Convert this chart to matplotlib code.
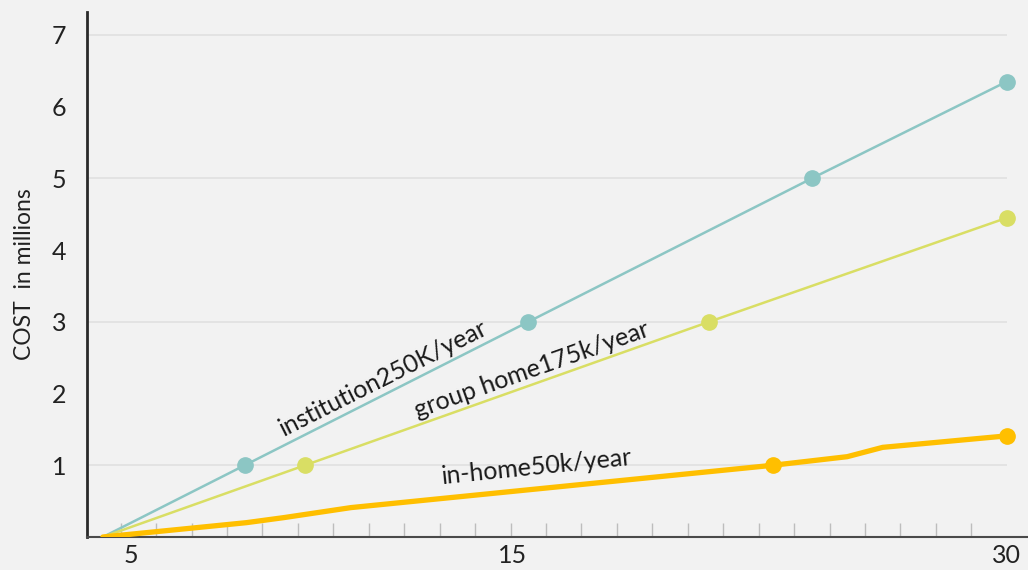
import matplotlib
matplotlib.use("Agg")
import matplotlib.pyplot as plt

plt.rcParams['font.family'] = ['Lato', 'DejaVu Sans']

# age (years) vs cumulative cost in millions
inst_age = [4.5, 8.5, 16.5, 24.5, 30]
inst_cost = [0, 1.0, 3.0, 5.0, 6.35]
group_age = [4.5, 10.2, 21.6, 30]
group_cost = [0, 1.0, 3.0, 4.45]
home_age = [4.5, 8.55, 9.6, 11.5, 23.4, 25.5, 26.5, 30]
home_cost = [0, 0.2, 0.27, 0.41, 1.0, 1.12, 1.25, 1.41]

# where markers sit
inst_mark = [1, 2, 3, 4]
group_mark = [1, 2, 3]
home_mark = [4, 7]

xtick_pos = [5.3, 16.05, 30]
xtick_labels = ['5', '15', '30']
yticks = [1, 2, 3, 4, 5, 6, 7]

c_inst = '#8cc6c4'
c_group = '#d9de64'
c_home = '#ffbf00'
bg = '#f2f2f2'

fig = plt.figure(figsize=(10.28, 5.70), dpi=100, facecolor=bg)
ax = fig.add_axes([0.0846, 0.0579, 0.9154, 0.921], facecolor=bg)

# light gridlines on odd values
ax.hlines([1, 3, 5, 7], 4.05, 30, color='#e2e2e2', lw=1.3, zorder=1)

ax.plot(inst_age, inst_cost, color=c_inst, lw=1.8, marker='o', markersize=11,
        markevery=inst_mark, zorder=3)
ax.plot(group_age, group_cost, color=c_group, lw=1.8, marker='o', markersize=11,
        markevery=group_mark, zorder=3)
ax.plot(home_age, home_cost, color=c_home, lw=3.8, marker='o', markersize=11,
        markevery=home_mark, zorder=4, solid_capstyle='round')

lbl = dict(fontsize=18, ha='center', va='center', color='#1a1a1a')
ax.text(12.4, 2.22, 'institution250K/year', rotation=26.7, **lbl)
ax.text(16.6, 2.33, 'group home175k/year', rotation=19.5, **lbl)
ax.text(16.75, 0.98, 'in-home50k/year', rotation=5.8, **lbl)

ax.set_xlim(4.05, 30.6)
ax.set_ylim(0, 7.32)

ax.set_xticks(xtick_pos)
ax.set_xticklabels(xtick_labels, fontsize=18)
ax.set_xticks(range(5, 31), minor=True)
ax.tick_params(axis='x', which='major', length=0, pad=5, colors='#222222')
ax.tick_params(axis='x', which='minor', direction='in', length=10,
               color='#bdbdbd', width=1)

ax.set_yticks(yticks)
ax.set_yticklabels([str(v) for v in yticks], fontsize=18)
ax.set_yticks([2, 4, 6], minor=True)
ax.tick_params(axis='y', which='major', length=0, pad=15, colors='#222222')
ax.tick_params(axis='y', which='minor', direction='in', length=19,
               color='#bdbdbd', width=1.3)

ax.set_ylabel('COST  in millions', fontsize=16.5, color='#222222', labelpad=12)

for s in ['top', 'right']:
    ax.spines[s].set_visible(False)
ax.spines['left'].set_color('#2a2a2a')
ax.spines['left'].set_linewidth(2)
ax.spines['bottom'].set_color('#4a4a4a')
ax.spines['bottom'].set_linewidth(1.5)

fig.savefig('out.png', dpi=100, facecolor=bg)
